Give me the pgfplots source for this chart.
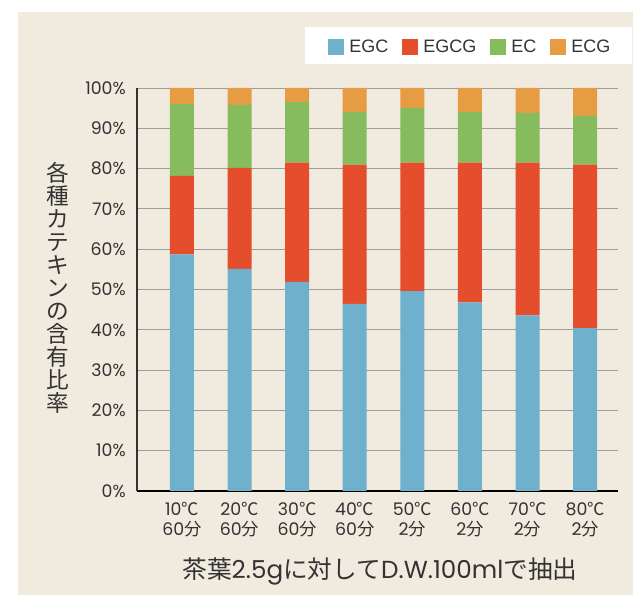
\documentclass[border=0pt]{standalone}
\usepackage{pgfplots}
\usepackage{pgfplotstable}
\pgfplotsset{compat=1.18}
\usepackage{fontspec}
\setmainfont{Poppins}
\newfontfamily\cjk{Noto Sans CJK JP}
\newfontfamily\legfont{Liberation Sans}
\definecolor{bg}{HTML}{F1EBDF}
\definecolor{textc}{HTML}{333333}
\definecolor{cEGC}{HTML}{6FB1CC}
\definecolor{cEGCG}{HTML}{E54E2D}
\definecolor{cEC}{HTML}{86BC5E}
\definecolor{cECG}{HTML}{E59C43}
\pgfplotstableread{
x egc egcg ec ecg
0 58.7 19.5 17.8 4.0
1 55.1 25.1 15.6 4.2
2 51.9 29.6 15.0 3.5
3 46.4 34.6 13.1 5.9
4 49.6 31.9 13.5 5.0
5 46.8 34.7 12.6 5.9
6 43.6 37.9 12.3 6.2
7 40.4 40.6 12.1 6.9
}\datatable
\pgfplotsset{
  mybar/.style={fill=#1, draw=none,
    legend image code/.code={\fill[fill=#1] (0pt,-6pt) rectangle (12pt,6pt);}},
}
\begin{document}
\begin{tikzpicture}[x=1pt,y=1pt]
\path[use as bounding box] (0,0) rectangle (474.75,446.25);
\fill[white] (0,0) rectangle (474.75,446.25);
\fill[bg] (13.5,0) rectangle (474.75,437.5);
\fill[white] (228.75,398.25) rectangle (473.75,426);
\begin{axis}[
  at={(102.75pt,78pt)}, anchor=south west,
  scale only axis, width=360.75pt, height=302.25pt,
  ybar stacked, bar width=18pt,
  xmin=-0.78, xmax=7.57, ymin=0, ymax=100,
  axis x line*=bottom, axis y line*=left,
  x axis line style={black, line width=1.5pt, -},
  y axis line style={textc, line width=1.3pt, -},
  major tick length=0pt,
  xtick={0,1,2,3,4,5,6,7},
  xticklabels={
    {10{\cjk ℃}\\60{\cjk 分}},
    {20{\cjk ℃}\\60{\cjk 分}},
    {30{\cjk ℃}\\60{\cjk 分}},
    {40{\cjk ℃}\\60{\cjk 分}},
    {50{\cjk ℃}\\2{\cjk 分}},
    {60{\cjk ℃}\\2{\cjk 分}},
    {70{\cjk ℃}\\2{\cjk 分}},
    {80{\cjk ℃}\\2{\cjk 分}}},
  xticklabel style={align=center, font=\fontsize{13}{14.5}\selectfont, inner sep=0pt, yshift=-8.5pt, text=textc},
  ytick={0,10,20,30,40,50,60,70,80,90,100},
  yticklabels={0\%,10\%,20\%,30\%,40\%,50\%,60\%,70\%,80\%,90\%,100\%},
  yticklabel style={font=\fontsize{13}{14}\selectfont, inner sep=0pt, xshift=-8.25pt, text=textc},
  ymajorgrids,
  grid style={color=black!38, line width=0.6pt},
  ylabel={各\\種\\カ\\テ\\キ\\ン\\の\\含\\有\\比\\率},
  ylabel style={at={(axis description cs:-0.164,0.504)}, anchor=center, rotate=-90, align=center, font=\cjk\fontsize{17}{17.3}\selectfont, text=textc},
  xlabel={{\cjk 茶葉}2.5g{\cjk に対して}D.W.100ml{\cjk で抽出}},
  xlabel style={at={(axis description cs:0.505,-0.1985)}, anchor=center, font=\fontsize{18.5}{20}\selectfont, text=textc},
  legend style={at={(axis description cs:0.3888,1.1017)}, anchor=west, draw=none, fill=none,
    font=\legfont\fontsize{13.5}{14}\selectfont, text=textc, nodes={inner sep=0pt},
    /tikz/every even column/.append style={column sep=10.5pt},
    /tikz/every odd column/.append style={column sep=3.75pt}},
  legend columns=4,
]
\addplot[mybar=cEGC] table[x=x,y=egc]{\datatable};
\addplot[mybar=cEGCG] table[x=x,y=egcg]{\datatable};
\addplot[mybar=cEC] table[x=x,y=ec]{\datatable};
\addplot[mybar=cECG] table[x=x,y=ecg]{\datatable};
\legend{EGC,EGCG,EC,ECG}
\end{axis}
\end{tikzpicture}
\end{document}
